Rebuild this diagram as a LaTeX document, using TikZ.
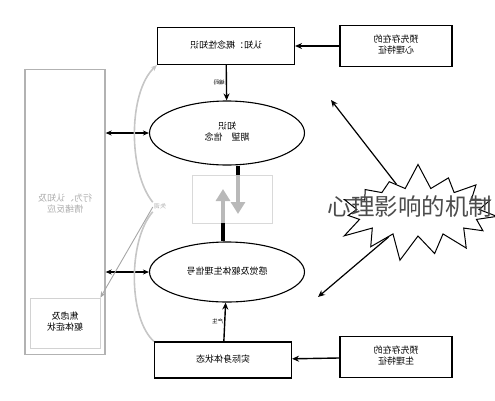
\documentclass[tikz,border=0pt]{standalone}
\usepackage{fontspec}
\setmainfont{Noto Sans CJK SC}
\usetikzlibrary{shapes, shapes.symbols, arrows.meta, positioning}
\newcommand{\mirtext}[1]{\reflectbox{\begin{tabular}{@{}c@{}}#1\end{tabular}}}

\begin{document}
\begin{tikzpicture}[x=1pt, y=-1pt,
    box/.style={rectangle, draw=black, line width=1.1pt, fill=white, font=\fontsize{9}{11}\selectfont, inner sep=2pt},
    oval/.style={ellipse, draw=black, line width=1.1pt, fill=white, minimum width=155pt, font=\fontsize{9}{11}\selectfont},
    tag/.style={font=\fontsize{5.5}{6}\selectfont, inner sep=1pt},
    conn/.style={-{Stealth[length=7pt, width=6pt]}, line width=1.4pt},
    dconn/.style={{Stealth[length=6pt, width=5pt]}-{Stealth[length=6pt, width=5pt]}, line width=1.2pt},
    greyconn/.style={-{Stealth[length=6pt, width=5pt]}, draw=gray!45, line width=1.6pt},
    bigshaft/.style={line width=4pt, draw=black},
    bigarrow/.style={-{Triangle[length=12pt, width=14pt]}, line width=4pt, draw=gray!55}]
    \useasboundingbox (0,0) rectangle (495,400);

    % Define nodes
    \node (respbox) [rectangle, draw=gray!60, line width=1.3pt, minimum width=80pt, minimum height=285pt] at (65,212) {};
    \node (resp) [text=gray!65, font=\fontsize{9}{11}\selectfont] at (65,205) {\mirtext{行为、认知及\\情绪反应}};
    \node (anxiety) [rectangle, draw=gray!35, line width=0.8pt, minimum width=70pt, minimum height=50pt, font=\fontsize{9}{11}\selectfont] at (65,323) {\mirtext{焦虑及\\躯体症状}};

    \node (cognition) [box, minimum width=137pt, minimum height=37pt] at (226,46) {\mirtext{认知：概念性知识}};
    \node (psych) [box, minimum width=112pt, minimum height=41pt] at (396,46) {\mirtext{预先存在的\\心理特征}};
    \node (belief) [oval, minimum height=64pt] at (227,133) {\mirtext{知识\\期望\quad 信念}};

    \node (conflict) [rectangle, draw=gray!30, line width=0.8pt, minimum width=80pt, minimum height=48pt] at (232,199) {};
    \coordinate (downtip) at (238,214);
    \coordinate (uptip) at (223,189);

    \node (signal) [oval, minimum height=60pt] at (227,272) {\mirtext{感觉及躯体生理信号}};
    \node (bodystate) [box, minimum width=137pt, minimum height=36pt] at (223,360) {\mirtext{实际身体状态}};
    \node (physio) [box, minimum width=112pt, minimum height=41pt] at (396,357) {\mirtext{预先存在的\\生理特征}};

    \node (dysreg) [tag, text=gray!60, font=\fontsize{6}{7}\selectfont] at (160,207) {\mirtext{失调}};

    \node (burst) [starburst, draw=black, line width=1pt, fill=white, minimum width=175pt, minimum height=100pt, starburst point height=26pt, starburst points=15, random starburst=7] at (418,212) {};
    \node (mechanism) [text=black!70, font=\fontsize{23.5}{25}\selectfont] at (410,207) {心理影响的机制};
    \coordinate (burstup) at (331,100);
    \coordinate (burstdown) at (318,297);

    % Connect nodes
    \draw[conn] (psych) -- (cognition);
    \draw[conn] (cognition) -- node[tag, left] {\mirtext{编码}} (belief);
    \draw[dconn] (respbox.east |- belief.west) -- (belief.west);
    \draw[bigshaft] (belief.south -| downtip) -- (conflict.north -| downtip);
    \draw[bigarrow] (conflict.north -| downtip) -- (downtip);
    \draw[bigshaft] (signal.north -| uptip) -- (conflict.south -| uptip);
    \draw[bigarrow] (conflict.south -| uptip) -- (uptip);
    \draw[dconn] (respbox.east |- signal.west) -- (signal.west);
    \draw[conn] (bodystate) -- node[tag, left] {\mirtext{产生}} (signal);
    \draw[conn] (physio) -- (bodystate);
    \draw[conn, line width=1.2pt] (burst) -- (burstup);
    \draw[conn, line width=1.2pt] (burst) -- (burstdown);

    \draw[greyconn] (dysreg.north west) .. controls (128,172) and (128,92) .. (cognition.south west);
    \draw[greyconn, -] (dysreg.south west) .. controls (128,240) and (128,318) .. (bodystate.north west);
    \draw[greyconn, draw=gray!70, line width=0.9pt] (dysreg.west) -- (anxiety.north east);
\end{tikzpicture}
\end{document}
